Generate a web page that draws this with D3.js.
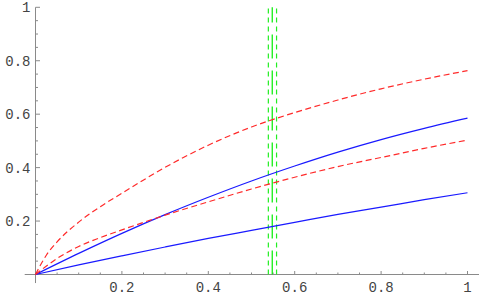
<!DOCTYPE html>
<html><head><meta charset="utf-8">
<script src="https://cdn.jsdelivr.net/npm/d3@7"></script>
<style>html,body{margin:0;padding:0;background:#fff;}svg{display:block;}</style>
</head><body>
<svg id="c" width="479" height="296"></svg>
<script>
// Read-off data
const xTicks = [0.2, 0.4, 0.6, 0.8, 1];
const xTickLabels = ["0.2", "0.4", "0.6", "0.8", "1"];
const yTicks = [0.2, 0.4, 0.6, 0.8, 1];
const yTickLabels = ["0.2", "0.4", "0.6", "0.8", "1"];
const minorStep = 0.05;

const redUpper = [[0,0],[0.025,0.072],[0.05,0.122],[0.1,0.196],[0.15,0.254],[0.2,0.304],[0.3,0.401],[0.4,0.484],[0.5,0.552],[0.6,0.606],[0.7,0.653],[0.8,0.695],[0.9,0.731],[1,0.763]];
const redLower = [[0,0],[0.05,0.06],[0.1,0.105],[0.15,0.138],[0.2,0.167],[0.3,0.222],[0.4,0.272],[0.5,0.32],[0.6,0.364],[0.7,0.404],[0.8,0.438],[0.9,0.472],[1,0.503]];
const blueUpper = [[0,0],[0.1,0.079],[0.2,0.154],[0.3,0.224],[0.4,0.289],[0.5,0.35],[0.6,0.406],[0.7,0.458],[0.8,0.505],[0.9,0.547],[1,0.585]];
const blueLower = [[0,0],[0.1,0.036],[0.2,0.07],[0.3,0.103],[0.4,0.135],[0.5,0.165],[0.6,0.195],[0.7,0.225],[0.8,0.252],[0.9,0.28],[1,0.306]];
const greenX = [0.539, 0.548, 0.558];
const greenY = [0, 1];

const svg = d3.select("#c");
const x = d3.scaleLinear().domain([0, 1]).range([35.5, 467.5]);
const y = d3.scaleLinear().domain([0, 1]).range([274.5, 7.3]);
const axisColor = "#8a8a8a";
const font = "'Liberation Mono', 'DejaVu Sans Mono', monospace";

// axes lines (with Mathematica-like padding)
svg.append("line").attr("x1", x(-0.025)).attr("x2", x(1.03)).attr("y1", y(0)).attr("y2", y(0))
  .attr("stroke", axisColor).attr("stroke-width", 1);
svg.append("line").attr("x1", x(0)).attr("x2", x(0)).attr("y1", y(-0.032)).attr("y2", y(1))
  .attr("stroke", axisColor).attr("stroke-width", 1);

const minors = d3.range(1, 21).map(i => +(i * minorStep).toFixed(2)).filter(v => !xTicks.includes(v));

// x ticks
svg.append("g").selectAll("line").data(minors).join("line")
  .attr("x1", d => x(d)).attr("x2", d => x(d)).attr("y1", y(0)).attr("y2", y(0) - 2)
  .attr("stroke", axisColor);
svg.append("g").selectAll("line").data(xTicks).join("line")
  .attr("x1", d => x(d)).attr("x2", d => x(d)).attr("y1", y(0)).attr("y2", y(0) - 3.5)
  .attr("stroke", axisColor);
svg.append("g").selectAll("text").data(xTicks).join("text")
  .attr("x", d => x(d)).attr("y", 291.5).attr("text-anchor", "middle")
  .attr("font-family", font).attr("font-size", 14).attr("fill", "#444")
  .text((d, i) => xTickLabels[i]);

// y ticks
svg.append("g").selectAll("line").data(minors).join("line")
  .attr("x1", x(0)).attr("x2", x(0) + 2.5).attr("y1", d => y(d)).attr("y2", d => y(d))
  .attr("stroke", axisColor);
svg.append("g").selectAll("line").data(yTicks).join("line")
  .attr("x1", x(0)).attr("x2", x(0) + 4.5).attr("y1", d => y(d)).attr("y2", d => y(d))
  .attr("stroke", axisColor);
svg.append("g").selectAll("text").data(yTicks).join("text")
  .attr("x", 30.5).attr("y", d => y(d)).attr("dy", "0.35em").attr("text-anchor", "end")
  .attr("font-family", font).attr("font-size", 14).attr("fill", "#444")
  .text((d, i) => yTickLabels[i]);

const line = d3.line().x(d => x(d[0])).y(d => y(d[1])).curve(d3.curveMonotoneX);

// green vertical lines
greenX.forEach((gx, i) => {
  svg.append("path").datum(greenY.map(v => [gx, v]))
    .attr("d", d3.line().x(d => x(d[0])).y(d => y(d[1])))
    .attr("fill", "none").attr("stroke", i === 1 ? "#00ee00" : "#22ee22")
    .attr("stroke-width", 1.2)
    .attr("stroke-dasharray", i === 1 ? "24,12" : "5,4");
});

[[blueLower, "#1a1aff", null], [blueUpper, "#1a1aff", null], [redLower, "#ff2a2a", "6,3.5"], [redUpper, "#ff2a2a", "6,3.5"]]
  .forEach(([data, col, dash]) => {
    const p = svg.append("path").datum(data).attr("d", line)
      .attr("fill", "none").attr("stroke", col).attr("stroke-width", 1.2);
    if (dash) p.attr("stroke-dasharray", dash);
  });
</script>
</body></html>
